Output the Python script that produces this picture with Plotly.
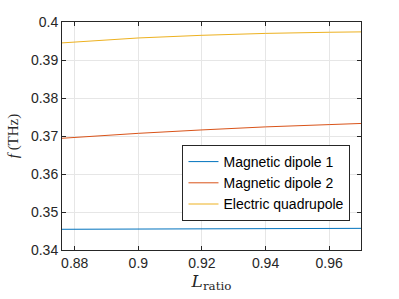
import plotly.graph_objects as go

l_ratio = [0.876, 0.89, 0.9, 0.92, 0.94, 0.96, 0.97]
md1 = [0.34545, 0.3455, 0.34553, 0.34558, 0.34563, 0.34568, 0.3457]
md2 = [0.3694, 0.3702, 0.3707, 0.3716, 0.3724, 0.3730, 0.3733]
eq = [0.3945, 0.3953, 0.3958, 0.3965, 0.3970, 0.3973, 0.3974]

names = ["Magnetic dipole 1", "Magnetic dipole 2", "Electric quadrupole"]
colors = ["#0072BD", "#D95319", "#EDB120"]
series = [md1, md2, eq]

x_ticks = [0.88, 0.9, 0.92, 0.94, 0.96]
x_labels = ["0.88", "0.9", "0.92", "0.94", "0.96"]
y_ticks = [0.34, 0.35, 0.36, 0.37, 0.38, 0.39, 0.4]
y_labels = ["0.34", "0.35", "0.36", "0.37", "0.38", "0.39", "0.4"]

fig = go.Figure()
for n, c, s in zip(names, colors, series):
    fig.add_trace(go.Scatter(x=l_ratio, y=s, mode="lines", name=n,
                             line=dict(color=c, width=1)))

axis_common = dict(showline=True, linecolor="#262626", linewidth=1, mirror="ticks",
                   ticks="inside", ticklen=4, tickcolor="#262626",
                   showgrid=True, gridcolor="#E6E6E6", gridwidth=1, zeroline=False,
                   tickfont=dict(family="Liberation Sans, Arial", size=14, color="#262626"))

fig.update_layout(
    width=399, height=299,
    margin=dict(l=56, r=38, t=22, b=49),
    paper_bgcolor="white", plot_bgcolor="white",
    xaxis=dict(range=[0.876, 0.97], tickvals=x_ticks, ticktext=x_labels,
               title=dict(text="<i>L</i><sub>ratio</sub>", standoff=4,
                          font=dict(family="DejaVu Serif, Liberation Serif", size=17, color="#262626")),
               **axis_common),
    yaxis=dict(range=[0.34, 0.4], tickvals=y_ticks, ticktext=y_labels,
               title=dict(text="<i>f</i> (THz)", standoff=8,
                          font=dict(family="Liberation Serif, DejaVu Serif", size=15, color="#262626")),
               **axis_common),
    legend=dict(x=0.403, y=0.4605, xanchor="left", yanchor="top",
                bgcolor="white", bordercolor="#262626", borderwidth=1,
                font=dict(family="Liberation Sans, Arial", size=14, color="black"),
                tracegroupgap=0, itemwidth=30),
    showlegend=True,
)

fig.write_html("out.html", config={"displayModeBar": False},
               post_script="document.body.style.margin='0';")
